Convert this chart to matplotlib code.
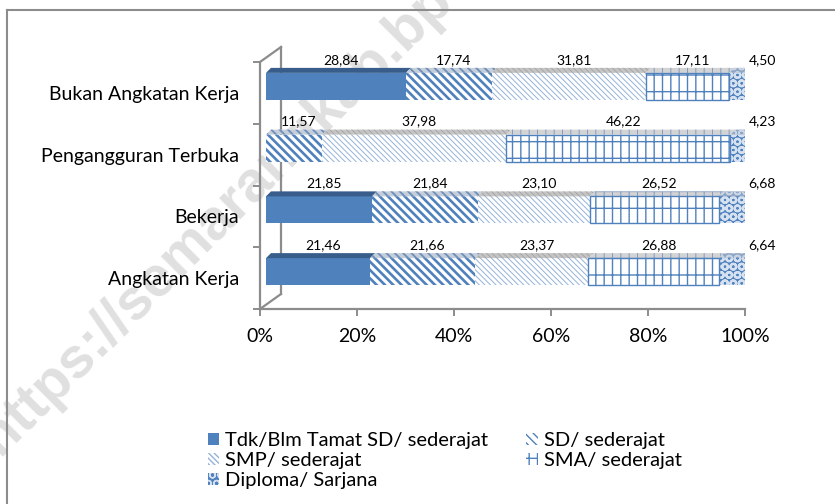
import numpy as np
import matplotlib.pyplot as plt
from matplotlib.patches import Rectangle, Polygon, Patch
from matplotlib.lines import Line2D

plt.rcParams['font.family'] = ['Lato', 'DejaVu Sans']

# data (persen)
categories = ['Angkatan Kerja', 'Bekerja', 'Pengangguran Terbuka', 'Bukan Angkatan Kerja']
series = ['Tdk/Blm Tamat SD/ sederajat', 'SD/ sederajat', 'SMP/ sederajat',
          'SMA/ sederajat', 'Diploma/ Sarjana']
tdk = [21.46, 21.85, 0.00, 28.84]
sd = [21.66, 21.84, 11.57, 17.74]
smp = [23.37, 23.10, 37.98, 31.81]
sma = [26.88, 26.52, 46.22, 17.11]
diploma = [6.64, 6.68, 4.23, 4.50]
xticks = [0, 20, 40, 60, 80, 100]
xticklabels = ['0%', '20%', '40%', '60%', '80%', '100%']

values = [tdk, sd, smp, sma, diploma]

# face, hatch, hatch colour, hatch width, top colour, top hatch colour
styles = [
    ('#4F81BD', None, '#4F81BD', 1.0, '#385D8A', '#385D8A'),
    ('white', '\\\\\\\\', '#4F81BD', 1.9, '#C5CFDC', '#6F8EB8'),
    ('white', '\\\\\\\\\\\\', '#95B3D9', 0.7, '#C4C4C4', '#9C9C9C'),
    ('white', '||-', '#4F81BD', 1.0, '#D3D3D3', '#7F9CC4'),
    ('#4F81BD', 'OO', '#D5E1F0', 1.6, '#8FA6C4', '#C9D5E5'),
]

W, H = 835, 504
fig = plt.figure(figsize=(W / 100, H / 100), dpi=100)
ax = fig.add_axes([260 / W, 195 / H, 485 / W, 247 / H])
ax.patch.set_visible(False)
ax.set_zorder(2)
ax.set_xlim(0, 100)
ax.set_ylim(-0.5, 3.5)

px_x = 100 / 485.0
px_y = 4 / 247.0
sx, sy = 6 * px_x, 6.5 * px_y      # front face shift
dx, dy = 5 * px_x, 5 * px_y        # depth
bh = 27 * px_y

def hatch_lw(p, lw):
    if hasattr(p, 'set_hatch_linewidth'):
        p.set_hatch_linewidth(lw)

for i in range(len(categories)):
    left = 0.0
    for j, vals in enumerate(values):
        v = vals[i]
        face, hatch, hcol, hlw, topc, toph = styles[j]
        if v <= 0:
            continue
        x0 = left + sx
        x1 = left + v + sx
        yb = i + sy - bh / 2
        yt = i + sy + bh / 2
        with plt.rc_context({'hatch.linewidth': hlw}):
            front = Rectangle((x0, yb), v, bh, facecolor=face, edgecolor=hcol,
                              hatch=hatch, lw=0, zorder=3)
            hatch_lw(front, hlw)
            ax.add_patch(front)
            top = Polygon([(x0, yt), (x1, yt), (x1 + dx, yt + dy), (x0 + dx, yt + dy)],
                          closed=True, facecolor=topc, edgecolor=toph,
                          hatch=hatch, lw=0, zorder=3)
            hatch_lw(top, hlw * 0.7)
            ax.add_patch(top)
            if j == len(values) - 1:
                side = Polygon([(x1, yb), (x1, yt), (x1 + dx, yt + dy), (x1 + dx, yb + dy)],
                               closed=True, facecolor='#3F6796', edgecolor='#8FA6C4',
                               hatch=hatch, lw=0, zorder=3)
                hatch_lw(side, 0.8)
                ax.add_patch(side)
        if j == 3:
            ax.add_patch(Rectangle((x0, yb), v, bh, facecolor='none',
                                   edgecolor='#4F81BD', lw=1.0, zorder=4))
        # data label
        if j == len(values) - 1:
            lx = left + v + sx + dx + 6 * px_x
        else:
            lx = left + v / 2 + sx + dx
        ax.text(lx, yt + dy + 2 * px_y, f'{v:.2f}'.replace('.', ','),
                ha='center', va='bottom', fontsize=10, color='black', zorder=5)
        left += v

# axes look
for s in ['top', 'right']:
    ax.spines[s].set_visible(False)
for s in ['left', 'bottom']:
    ax.spines[s].set_color('#8C8C8C')
    ax.spines[s].set_linewidth(1.6)

ax.set_xticks(xticks)
ax.set_xticklabels(xticklabels, fontsize=14)
ax.tick_params(axis='x', length=5, width=1.4, color='#8C8C8C', pad=9)
ax.set_yticks(range(len(categories)))
ax.set_yticklabels(categories, fontsize=14)
ax.tick_params(axis='y', which='major', length=0, pad=15)
ax.set_yticks(np.arange(-0.5, len(categories)), minor=True)
ax.tick_params(axis='y', which='minor', length=5, width=1.4, color='#8C8C8C')

# back wall of the 3d frame
wx, wy = 21 / 485.0, 15 / 247.0
for pts in [([0, wx], [1, 1 + wy]), ([wx, wx], [1 + wy, wy]), ([0, wx], [0, wy])]:
    ax.add_line(Line2D(pts[0], pts[1], transform=ax.transAxes, color='#8C8C8C',
                       lw=1.6, clip_on=False, zorder=1))

# outer frame
fig.add_artist(Line2D([7 / W, 7 / W], [0, 1 - 10 / H], color='#8C8C8C', lw=1.5))
fig.add_artist(Line2D([7 / W, 1], [1 - 10 / H, 1 - 10 / H], color='#8C8C8C', lw=1.5))

# watermark (behind the chart)
fig.text(0 / W, 47 / H, 'https://semarangkab.bps.go.id', rotation=45,
         rotation_mode='anchor', ha='left', va='baseline', fontsize=41,
         fontweight='bold', family='Liberation Sans', color='#E0E0E0', zorder=-1)

# legend (excel fills row-wise)
handles = []
for j in range(len(series)):
    face, hatch, hcol, hlw, topc, toph = styles[j]
    handles.append(Patch(facecolor=face, edgecolor=hcol, hatch=hatch, lw=0))
order = [0, 2, 4, 1, 3]
fig.legend([handles[k] for k in order], [series[k] for k in order],
           loc='upper left', bbox_to_anchor=(200 / W, 1 - 424 / H), ncol=2,
           frameon=False, fontsize=14.5, handlelength=0.55, handleheight=0.55,
           handletextpad=0.3, columnspacing=1.9, labelspacing=0.15,
           borderaxespad=0)

fig.savefig('out.png', dpi=100)
